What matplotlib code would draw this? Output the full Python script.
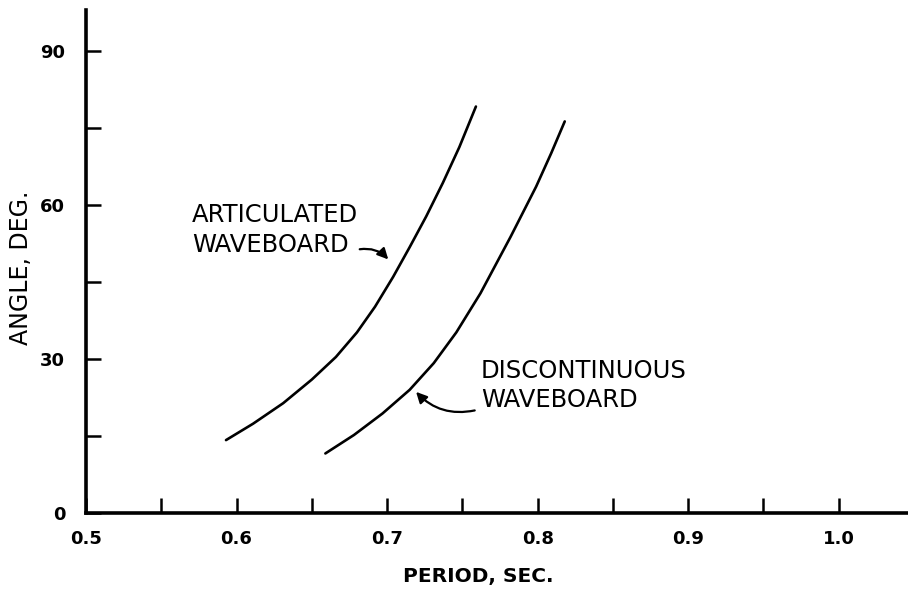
import numpy as np
import matplotlib

matplotlib.use('Agg')
import matplotlib.pyplot as plt

# curves (period in s, angle in deg)
art_period = [0.593, 0.611, 0.631, 0.650, 0.666, 0.680, 0.692, 0.704,
              0.715, 0.726, 0.737, 0.748, 0.759]
art_angle = [14.2, 17.4, 21.4, 26.0, 30.4, 35.2, 40.2, 46.0,
             51.8, 57.8, 64.3, 71.3, 79.2]

disc_period = [0.659, 0.678, 0.697, 0.715, 0.731, 0.746, 0.762, 0.782,
               0.799, 0.809, 0.818]
disc_angle = [11.6, 15.2, 19.4, 24.0, 29.2, 35.2, 42.8, 53.8,
              63.6, 70.1, 76.3]

x_major = [0.5, 0.6, 0.7, 0.8, 0.9, 1.0]
x_labels = ['0.5', '0.6', '0.7', '0.8', '0.9', '1.0']
x_minor = [0.55, 0.65, 0.75, 0.85, 0.95]
y_major = [0, 30, 60, 90]
y_minor = [15, 45, 75]

fig = plt.figure(figsize=(9.08, 5.91), dpi=100)
ax = fig.add_axes([0.0947, 0.132, 0.9053, 0.851])

ax.plot(art_period, art_angle, color='black', lw=1.9,
        solid_capstyle='round', solid_joinstyle='round')
ax.plot(disc_period, disc_angle, color='black', lw=1.9,
        solid_capstyle='round', solid_joinstyle='round')

ax.set_xlim(0.5, 1.046)
ax.set_ylim(0, 98)

for side in ['top', 'right']:
    ax.spines[side].set_visible(False)
for side in ['left', 'bottom']:
    ax.spines[side].set_linewidth(2.6)

ax.set_xticks(x_major)
ax.set_xticklabels(x_labels)
ax.set_xticks(x_minor, minor=True)
ax.set_yticks(y_major)
ax.set_yticks(y_minor, minor=True)

ax.tick_params(axis='both', which='both', direction='in', length=11, width=1.8)
ax.tick_params(axis='x', which='major', pad=12)
ax.tick_params(axis='y', which='major', pad=15)
for lab in ax.get_xticklabels() + ax.get_yticklabels():
    lab.set_fontsize(13)
    lab.set_fontweight('bold')

ax.text(0.477, -0.127, 'PERIOD, SEC.', transform=ax.transAxes, ha='center',
        va='center', fontsize=14.5, fontweight='bold')
ax.text(-0.079, 0.487, 'ANGLE, DEG.', transform=ax.transAxes, ha='center',
        va='center', rotation=90, fontsize=17)

# annotations
ax.text(0.5704, 56.7, 'ARTICULATED', fontsize=17.5, va='baseline', ha='left')
ax.text(0.5704, 50.9, 'WAVEBOARD', fontsize=17.5, va='baseline', ha='left')
ax.annotate('', xy=(0.702, 49.0), xytext=(0.680, 51.3),
            arrowprops=dict(arrowstyle='-|>', color='black', lw=1.6,
                            mutation_scale=16,
                            connectionstyle='arc3,rad=-0.3'))

ax.text(0.7623, 26.3, 'DISCONTINUOUS', fontsize=17.5, va='baseline', ha='left')
ax.text(0.7623, 20.7, 'WAVEBOARD', fontsize=17.5, va='baseline', ha='left')
ax.annotate('', xy=(0.718, 24.0), xytext=(0.760, 20.1),
            arrowprops=dict(arrowstyle='-|>', color='black', lw=1.6,
                            mutation_scale=16,
                            connectionstyle='arc3,rad=-0.3'))

plt.savefig('out.png', dpi=100)
